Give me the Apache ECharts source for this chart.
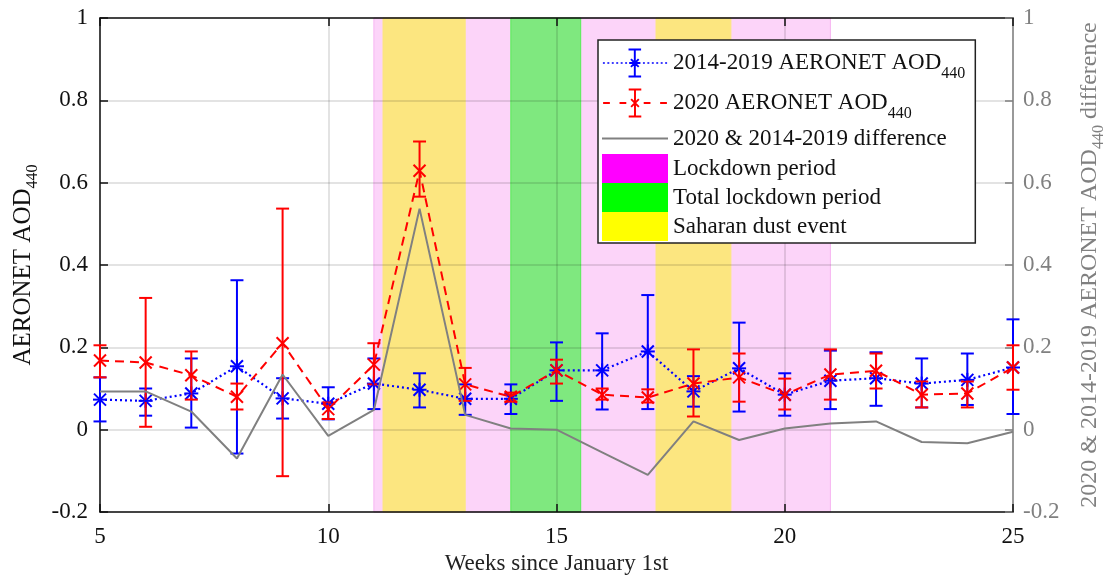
<!DOCTYPE html>
<html>
<head>
<meta charset="utf-8">
<script src="https://cdn.jsdelivr.net/npm/echarts@6/dist/echarts.min.js"></script>
<style>
  html, body { margin: 0; padding: 0; background: #fff; }
  #chart { width: 1103px; height: 577px; }
</style>
</head>
<body>
<div id="chart"></div>
<script>
  // weeks since January 1st
  var weeks = [5, 6, 7, 8, 9, 10, 11, 12, 13, 14, 15, 16, 17, 18, 19, 20, 21, 22, 23, 24, 25];

  // 2014-2019 AERONET AOD440 (mean, lower, upper)
  var climMean = [0.073, 0.070, 0.088, 0.154, 0.076, 0.063, 0.112, 0.097, 0.075, 0.075, 0.144, 0.144, 0.190, 0.093, 0.149, 0.085, 0.119, 0.125, 0.112, 0.121, 0.151];
  var climLow  = [0.020, 0.034, 0.005, -0.058, 0.027, 0.025, 0.050, 0.054, 0.036, 0.038, 0.070, 0.049, 0.050, 0.056, 0.044, 0.034, 0.050, 0.058, 0.054, 0.060, 0.038];
  var climHigh = [0.127, 0.100, 0.173, 0.363, 0.125, 0.103, 0.173, 0.137, 0.110, 0.110, 0.212, 0.234, 0.327, 0.130, 0.260, 0.137, 0.192, 0.188, 0.173, 0.185, 0.268];

  // 2020 AERONET AOD440 (mean, lower, upper)
  var aodMean = [0.168, 0.163, 0.132, 0.080, 0.210, 0.050, 0.158, 0.629, 0.110, 0.080, 0.144, 0.085, 0.078, 0.112, 0.127, 0.085, 0.134, 0.143, 0.085, 0.088, 0.151];
  var aodLow  = [0.127, 0.007, 0.073, 0.049, -0.113, 0.026, 0.110, 0.566, 0.070, 0.068, 0.112, 0.073, 0.066, 0.032, 0.068, 0.049, 0.073, 0.100, 0.054, 0.054, 0.097];
  var aodHigh = [0.205, 0.320, 0.190, 0.112, 0.537, 0.066, 0.210, 0.700, 0.150, 0.090, 0.170, 0.100, 0.098, 0.195, 0.185, 0.124, 0.195, 0.185, 0.117, 0.117, 0.205];

  // 2020 & 2014-2019 difference (right axis)
  var diffValues = [0.093, 0.093, 0.044, -0.070, 0.134, -0.015, 0.048, 0.537, 0.036, 0.003, 0.000, -0.055, -0.110, 0.020, -0.025, 0.003, 0.015, 0.020, -0.030, -0.033, -0.005];

  // shaded periods, [start week, end week]
  var lockdownSpans = [[11, 21]];
  var totalLockdownSpans = [[14, 15.53]];
  var dustSpans = [[11.2, 13.0], [17.18, 18.82]];

  var yRange = [-0.2, 1];
  var serif = 'Liberation Serif';

  var nameClim = '2014-2019 AERONET AOD440';
  var name2020 = '2020 AERONET AOD440';
  var nameDiff = '2020 & 2014-2019 difference';

  // legend icons (66x30 box, 10 units per px): line + error bar + marker
  function rect(x1, y1, x2, y2) {
    return 'M' + x1 + ' ' + y1 + 'L' + x2 + ' ' + y1 + 'L' + x2 + ' ' + y2 + 'L' + x1 + ' ' + y2 + 'Z';
  }
  var barPath = rect(320, 0, 340, 300) + rect(265, 0, 395, 20) + rect(265, 280, 395, 300);
  var xPath = 'M283 117L297 103L377 183L363 197Z' + 'M363 103L377 117L297 197L283 183Z';
  var dotPath = '';
  for (var i = 0; i < 15; i++) dotPath += rect(i * 46, 141, i * 46 + 20, 159);
  var dashPath = rect(0, 140, 70, 160) + rect(170, 140, 240, 160) + rect(420, 140, 490, 160) + rect(590, 140, 660, 160);
  var climIcon = 'path://' + dotPath + barPath + xPath + rect(272, 140, 388, 160);
  var aodIcon = 'path://' + dashPath + barPath + xPath;

  function pairs(ys) {
    return weeks.map(function (w, i) { return [w, ys[i]]; });
  }
  function bars(mean, lo, hi) {
    return weeks.map(function (w, i) { return [w, mean[i], lo[i], hi[i]]; });
  }
  function spans(list) {
    return list.map(function (s) { return [s[0], s[1], yRange[0], yRange[1]]; });
  }

  function errorBar(kind, color) {
    return function (params, api) {
      var x = api.value(0);
      var c = api.coord([x, api.value(1)]);
      var lo = api.coord([x, api.value(2)]);
      var hi = api.coord([x, api.value(3)]);
      var cap = 6.5, m = 6;
      var st = { stroke: color, lineWidth: 2, fill: null };
      var kids = [
        { type: 'line', shape: { x1: lo[0], y1: lo[1], x2: hi[0], y2: hi[1] }, style: st },
        { type: 'line', shape: { x1: lo[0] - cap, y1: lo[1], x2: lo[0] + cap, y2: lo[1] }, style: st },
        { type: 'line', shape: { x1: hi[0] - cap, y1: hi[1], x2: hi[0] + cap, y2: hi[1] }, style: st },
        { type: 'line', shape: { x1: c[0] - m, y1: c[1] - m, x2: c[0] + m, y2: c[1] + m }, style: st },
        { type: 'line', shape: { x1: c[0] - m, y1: c[1] + m, x2: c[0] + m, y2: c[1] - m }, style: st }
      ];
      if (kind === 'star') {
        kids.push({ type: 'line', shape: { x1: c[0] - m - 1, y1: c[1], x2: c[0] + m + 1, y2: c[1] }, style: st });
        kids.push({ type: 'line', shape: { x1: c[0], y1: c[1] - m - 1, x2: c[0], y2: c[1] + m + 1 }, style: st });
      }
      return { type: 'group', children: kids };
    };
  }

  function band(fill, edge) {
    return function (params, api) {
      var a = api.coord([api.value(0), api.value(3)]);
      var b = api.coord([api.value(1), api.value(2)]);
      return {
        type: 'rect',
        shape: { x: a[0], y: a[1], width: b[0] - a[0], height: b[1] - a[1] },
        style: { fill: fill, stroke: edge, lineWidth: 1 }
      };
    };
  }

  var subStyle = function (color, pad) {
    return { fontFamily: serif, fontSize: 16, color: color, padding: [pad, 0, 0, 0] };
  };

  var chart = echarts.init(document.getElementById('chart'));
  chart.setOption({
    animation: false,
    textStyle: { fontFamily: serif },
    grid: { left: 100, right: 90, top: 18, bottom: 65, containLabel: false, outerBoundsMode: 'none' },
    legend: {
      orient: 'vertical',
      left: 598,
      top: 40,
      itemWidth: 66,
      itemHeight: 29,
      itemGap: 0,
      padding: [3, 10, 2, 4],
      backgroundColor: '#fff',
      borderColor: '#222',
      borderWidth: 1.5,
      borderRadius: 0,
      selectedMode: false,
      symbolKeepAspect: true,
      textStyle: {
        fontFamily: serif, fontSize: 23, color: '#111',
        rich: {
          t: { fontFamily: serif, fontSize: 23, color: '#111', height: 40, lineHeight: 40 },
          q: { fontFamily: serif, fontSize: 23, color: '#111', height: 31, lineHeight: 31 },
          p: { fontFamily: serif, fontSize: 23, color: '#111' },
          s: subStyle('#111', 22)
        }
      },
      formatter: function (n) {
        if (/AOD440$/.test(n)) return '{t|' + n.replace(/440$/, '') + '}{s|440}';
        if (n === nameDiff) return '{q|' + n + '}';
        return '{p|' + n + '}';
      },
      data: [
        { name: nameClim, icon: climIcon, itemStyle: { color: '#0000ff' } },
        { name: name2020, icon: aodIcon, itemStyle: { color: '#ff0000' } },
        { name: nameDiff, icon: 'path://M0 0L660 0L660 22L0 22Z', itemStyle: { color: '#808080' } },
        { name: 'Lockdown period', icon: 'rect', itemStyle: { color: '#ff00ff' } },
        { name: 'Total lockdown period', icon: 'rect', itemStyle: { color: '#00ff00' } },
        { name: 'Saharan dust event', icon: 'rect', itemStyle: { color: '#ffff00' } }
      ]
    },
    xAxis: [{
      type: 'value',
      min: 5, max: 25, interval: 5,
      name: 'Weeks since January 1st',
      nameLocation: 'middle',
      nameGap: 39,
      nameTextStyle: { fontFamily: serif, fontSize: 23, color: '#222' },
      axisLine: { onZero: false, lineStyle: { color: '#111', width: 1.5 } },
      axisTick: { inside: true, length: 8, lineStyle: { color: '#111', width: 1.5 } },
      axisLabel: { fontFamily: serif, fontSize: 23, color: '#111', margin: 13 },
      splitLine: { show: true, lineStyle: { color: 'rgba(0,0,0,0.15)', width: 1.5 } }
    }, {
      type: 'value',
      position: 'top',
      min: 5, max: 25, interval: 5,
      axisLine: { onZero: false, lineStyle: { color: '#111', width: 1.5 } },
      axisTick: { inside: true, length: 8, lineStyle: { color: '#111', width: 1.5 } },
      axisLabel: { show: false },
      splitLine: { show: false }
    }],
    yAxis: [{
      type: 'value',
      min: -0.2, max: 1, interval: 0.2,
      name: 'AERONET AOD{s|440}',
      nameLocation: 'middle',
      nameRotate: 90,
      nameGap: 52,
      nameTextStyle: {
        fontFamily: serif, fontSize: 25, color: '#111',
        rich: { s: subStyle('#111', 18) }
      },
      axisLine: { show: true, onZero: false, lineStyle: { color: '#111', width: 1.5 } },
      axisTick: { show: true, inside: true, length: 8, lineStyle: { color: '#111', width: 1.5 } },
      axisLabel: { fontFamily: serif, fontSize: 23, color: '#111', margin: 12 },
      splitLine: { show: true, lineStyle: { color: 'rgba(0,0,0,0.15)', width: 1.5 } }
    }, {
      type: 'value',
      position: 'right',
      min: -0.2, max: 1, interval: 0.2,
      name: '2020 & 2014-2019 AERONET AOD{s|440} difference',
      nameLocation: 'middle',
      nameRotate: 90,
      nameGap: 60,
      nameTextStyle: {
        fontFamily: serif, fontSize: 24, color: '#808080',
        rich: { s: subStyle('#808080', 18) }
      },
      axisLine: { show: true, onZero: false, lineStyle: { color: '#808080', width: 1.5 } },
      axisTick: { show: true, inside: true, length: 8, lineStyle: { color: '#808080', width: 1.5 } },
      axisLabel: { fontFamily: serif, fontSize: 23, color: '#808080', margin: 10 },
      splitLine: { show: false }
    }],
    series: [
      {
        name: 'Lockdown period', type: 'custom', z: -1, silent: true,
        renderItem: band('#fcd4f9', '#f7b5f2'),
        encode: { x: [0, 1], y: [2, 3] },
        data: spans(lockdownSpans)
      },
      {
        name: 'Total lockdown period', type: 'custom', z: -1, silent: true,
        renderItem: band('#7fe87f', '#55ee55'),
        encode: { x: [0, 1], y: [2, 3] },
        data: spans(totalLockdownSpans)
      },
      {
        name: 'Saharan dust event', type: 'custom', z: -1, silent: true,
        renderItem: band('#fce680', '#fce680'),
        encode: { x: [0, 1], y: [2, 3] },
        data: spans(dustSpans)
      },
      {
        name: nameClim, type: 'line',
        data: pairs(climMean),
        symbol: 'none', showSymbol: false,
        itemStyle: { color: '#0000ff' },
        lineStyle: { color: '#0000ff', width: 2.2, type: [2, 3] },
        silent: true
      },
      {
        name: nameClim, type: 'custom',
        renderItem: errorBar('star', '#0000ff'),
        encode: { x: 0, y: [1, 2, 3] },
        data: bars(climMean, climLow, climHigh),
        silent: true
      },
      {
        name: name2020, type: 'line',
        data: pairs(aodMean),
        symbol: 'none', showSymbol: false,
        itemStyle: { color: '#ff0000' },
        lineStyle: { color: '#ff0000', width: 2, type: [9, 6] },
        silent: true
      },
      {
        name: name2020, type: 'custom',
        renderItem: errorBar('cross', '#ff0000'),
        encode: { x: 0, y: [1, 2, 3] },
        data: bars(aodMean, aodLow, aodHigh),
        silent: true
      },
      {
        name: nameDiff, type: 'line', yAxisIndex: 1,
        data: pairs(diffValues),
        symbol: 'none',
        itemStyle: { color: '#808080' },
        lineStyle: { color: '#808080', width: 2 },
        silent: true
      }
    ]
  });
</script>
</body>
</html>
